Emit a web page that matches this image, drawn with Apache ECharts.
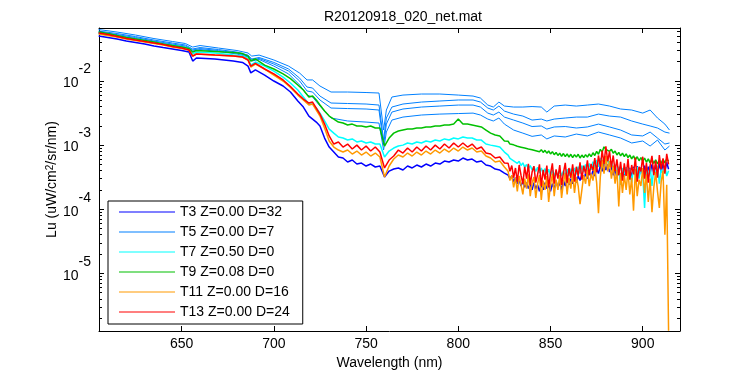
<!DOCTYPE html>
<html>
<head>
<meta charset="utf-8">
<title>R20120918_020_net.mat</title>
<script src="https://cdn.jsdelivr.net/npm/echarts@6/dist/echarts.min.js"></script>
<style>
html,body{margin:0;padding:0;background:#fff;}
#chart{width:750px;height:375px;}
</style>
</head>
<body>
<div id="chart"></div>
<script>
//wavelength grid (nm) for the six main traces
var wl = [605,610,615,620,625,630,635,640,645,650,654,656,658,663,668,673,678,683,686,687.5,690,695,700,705,709,713,716,719,721,723,725,
  727.5,730,732.5,735,737.5,740,742.5,745,747.5,750,752.5,755,757.5,760,762.5,765,767.5,770,772.5,775,777.5,780,782.5,785,787.5,790,792.5,795,797.5,800,802.5,805,807.5,810,812.5,815,817.5,820,822.5,825,
  827,828,829,830,831,832,833,834,835,836,837,838,839,840,841,842,843,844,845,846,847,848,849,850,851,852,853,854,855,856,
  857,858,859,860,861,862,863,864,865,866,867,868,869,870,871,872,873,874,875,876,877,878,879,880,881,882,883,884,885,886,
  887,888,889,890,891,892,893,894,895,896,897,898,899,900,901,902,903,904,905,906,907,908,909,910,911,912,913,914];

var t3 = [0.0503,0.0477,0.0452,0.0421,0.0399,0.0378,0.0352,0.0333,0.0316,0.0299,0.0283,0.0205,0.0229,0.0225,0.0221,0.0213,0.0205,0.0195,0.0171,0.0134,0.0149,0.0124,0.0100,0.00836,0.00674,0.00488,0.00393,0.00284,0.00255,0.00229,0.00199,
  0.00129,0.000934,0.000780,0.000652,0.000629,0.000545,0.000586,0.000507,0.000526,0.000472,0.000507,0.000456,0.000472,0.000318,0.000394,0.000424,0.000440,0.000409,0.000472,0.000440,0.000489,0.000456,0.000507,0.000472,0.000526,0.000507,0.000565,0.000545,0.000586,0.000565,0.000629,0.000586,0.000607,0.000545,0.000565,0.000489,0.000472,0.000424,0.000409,0.000367,
  3.4e-4,3.0e-4,3.3e-4,2.7e-4,3.1e-4,2.5e-4,2.9e-4,2.3e-4,2.7e-4,2.2e-4,2.6e-4,2.1e-4,2.5e-4,2.0e-4,2.6e-4,2.1e-4,2.4e-4,1.9e-4,2.5e-4,2.0e-4,2.6e-4,2.1e-4,2.4e-4,1.9e-4,2.5e-4,2.1e-4,2.7e-4,2.2e-4,2.6e-4,2.0e-4,
  2.8e-4,2.3e-4,2.9e-4,2.4e-4,3.0e-4,2.5e-4,3.2e-4,2.6e-4,3.3e-4,2.8e-4,3.5e-4,2.9e-4,3.6e-4,3.0e-4,3.8e-4,3.2e-4,4.0e-4,3.3e-4,4.3e-4,3.6e-4,4.8e-4,3.9e-4,5.2e-4,4.1e-4,5.0e-4,3.8e-4,4.6e-4,3.4e-4,4.2e-4,3.1e-4,
  4.0e-4,3.0e-4,4.3e-4,3.2e-4,4.5e-4,3.3e-4,4.4e-4,3.1e-4,4.6e-4,3.4e-4,4.7e-4,3.3e-4,4.5e-4,3.5e-4,4.8e-4,3.4e-4,4.6e-4,3.6e-4,5.0e-4,3.7e-4,4.9e-4,3.5e-4,5.2e-4,3.8e-4,5.1e-4,3.9e-4,5.4e-4,4.2e-4];

var t7 = [0.0551,0.0522,0.0494,0.0469,0.0444,0.0421,0.0399,0.0378,0.0358,0.0339,0.0321,0.0264,0.0283,0.0279,0.0274,0.0264,0.0254,0.0245,0.0225,0.0177,0.0198,0.0171,0.0143,0.0115,0.00931,0.00724,0.00563,0.00438,0.00438,0.00379,0.00316,
  0.00238,0.00178,0.00154,0.00134,0.00129,0.00120,0.00125,0.00112,0.00116,0.00108,0.00112,0.00104,0.00104,0.000652,0.000809,0.000901,0.000968,0.00100,0.00108,0.00104,0.00112,0.00108,0.00116,0.00112,0.00120,0.00116,0.00125,0.00120,0.00129,0.00125,0.00134,0.00129,0.00129,0.00120,0.00120,0.00104,0.00100,0.000968,0.000934,0.000780,
  7.0e-4,6.2e-4,6.6e-4,5.7e-4,6.0e-4,5.2e-4,5.6e-4,4.8e-4,5.3e-4,4.5e-4,5.0e-4,4.3e-4,4.8e-4,4.1e-4,4.6e-4,3.9e-4,4.5e-4,3.7e-4,4.4e-4,3.6e-4,4.3e-4,3.5e-4,4.2e-4,3.4e-4,4.1e-4,3.3e-4,4.0e-4,3.2e-4,4.1e-4,3.3e-4,
  4.0e-4,3.2e-4,4.2e-4,3.3e-4,4.3e-4,3.4e-4,4.4e-4,3.5e-4,4.6e-4,3.6e-4,4.8e-4,3.8e-4,5.0e-4,3.9e-4,5.2e-4,4.1e-4,5.5e-4,4.3e-4,5.9e-4,4.6e-4,6.3e-4,4.9e-4,6.6e-4,5.0e-4,6.2e-4,4.6e-4,5.6e-4,4.1e-4,5.0e-4,3.6e-4,
  4.6e-4,2.4e-4,4.4e-4,3.5e-4,4.5e-4,3.3e-4,4.3e-4,2.6e-4,4.4e-4,3.4e-4,4.6e-4,3.0e-4,4.5e-4,3.6e-4,1.05e-4,4.2e-4,3.2e-4,4.7e-4,2.3e-4,4.4e-4,3.4e-4,4.8e-4,2.5e-4,4.3e-4,3.5e-4,4.6e-4,3.3e-4,4.0e-4];

var t9 = [0.0581,0.0551,0.0512,0.0477,0.0452,0.0429,0.0406,0.0378,0.0358,0.0339,0.0321,0.0283,0.0299,0.0294,0.0289,0.0283,0.0278,0.0268,0.0245,0.0205,0.0221,0.0177,0.0154,0.0129,0.0109,0.00866,0.00724,0.00563,0.00583,0.00506,0.00422,
  0.00340,0.00284,0.00255,0.00229,0.00221,0.00206,0.00213,0.00199,0.00199,0.00192,0.00199,0.00185,0.00185,0.000968,0.00129,0.00154,0.00166,0.00172,0.00178,0.00178,0.00185,0.00185,0.00192,0.00192,0.00199,0.00199,0.00206,0.00206,0.00213,0.00255,0.00213,0.00213,0.00206,0.00199,0.00192,0.00172,0.00154,0.00144,0.00139,0.00116,
  11.5e-4,10.4e-4,11.0e-4,10.1e-4,10.6e-4,9.6e-4,10.2e-4,9.3e-4,9.9e-4,9.0e-4,9.6e-4,8.7e-4,9.3e-4,8.5e-4,9.1e-4,8.2e-4,8.8e-4,7.9e-4,8.5e-4,7.7e-4,8.3e-4,7.5e-4,8.1e-4,7.3e-4,7.9e-4,7.1e-4,7.7e-4,6.9e-4,7.5e-4,6.7e-4,
  7.4e-4,6.6e-4,7.3e-4,6.5e-4,7.2e-4,6.4e-4,7.1e-4,6.5e-4,7.2e-4,6.3e-4,7.0e-4,6.4e-4,7.1e-4,6.5e-4,7.3e-4,6.6e-4,7.6e-4,6.9e-4,8.0e-4,7.2e-4,8.6e-4,7.8e-4,9.4e-4,8.6e-4,9.2e-4,8.0e-4,8.6e-4,7.5e-4,8.1e-4,7.0e-4,
  7.7e-4,6.8e-4,7.5e-4,6.6e-4,7.3e-4,6.4e-4,7.0e-4,6.1e-4,6.8e-4,5.9e-4,6.6e-4,5.7e-4,6.4e-4,5.6e-4,6.3e-4,5.4e-4,6.1e-4,5.3e-4,6.0e-4,5.2e-4,5.9e-4,5.1e-4,5.8e-4,5.2e-4,6.0e-4,5.3e-4,6.1e-4,5.6e-4];

var t11 = [0.0541,0.0512,0.0486,0.0452,0.0429,0.0406,0.0385,0.0365,0.0339,0.0321,0.0305,0.0245,0.0264,0.0259,0.0254,0.0250,0.0245,0.0237,0.0213,0.0165,0.0184,0.0154,0.0124,0.0100,0.00793,0.00604,0.00506,0.00422,0.00438,0.00353,0.00284,
  0.00185,0.00116,0.000934,0.000839,0.000780,0.000839,0.000726,0.000809,0.000701,0.000780,0.000676,0.000753,0.000652,0.000318,0.000472,0.000607,0.000701,0.000652,0.000753,0.000676,0.000780,0.000701,0.000809,0.000726,0.000839,0.000753,0.000870,0.000780,0.000901,0.000809,0.000934,0.000839,0.000901,0.000780,0.000809,0.000676,0.000629,0.000545,0.000565,0.000456,
  3.9e-4,2.8e-4,3.4e-4,2.2e-4,3.1e-4,1.9e-4,3.3e-4,2.4e-4,1.7e-4,3.0e-4,2.1e-4,3.5e-4,1.6e-4,2.6e-4,3.2e-4,1.5e-4,2.5e-4,3.4e-4,1.4e-4,2.8e-4,2.0e-4,3.3e-4,1.3e-4,2.4e-4,3.6e-4,1.6e-4,2.9e-4,2.0e-4,3.4e-4,1.5e-4,
  2.6e-4,3.7e-4,1.7e-4,3.1e-4,2.1e-4,3.6e-4,1.8e-4,3.2e-4,2.3e-4,1.2e-4,2.0e-4,3.4e-4,2.5e-4,4.1e-4,2.3e-4,3.6e-4,2.8e-4,4.5e-4,2.6e-4,0.87e-4,3.2e-4,5.9e-4,3.6e-4,6.8e-4,3.9e-4,5.7e-4,3.0e-4,4.8e-4,2.5e-4,4.1e-4,
  1.1e-4,3.7e-4,1.8e-4,3.4e-4,2.0e-4,4.0e-4,1.7e-4,3.1e-4,0.95e-4,4.2e-4,1.6e-4,2.9e-4,2.3e-4,4.4e-4,1.8e-4,3.5e-4,1.3e-4,3.0e-4,0.9e-4,2.2e-4,3.8e-4,1.9e-4,1.05e-4,2.7e-4,4.0e-4,0.40e-4,2.4e-4,1.27e-6];

var t13 = [0.0561,0.0531,0.0494,0.0460,0.0436,0.0414,0.0392,0.0371,0.0345,0.0327,0.0305,0.0245,0.0264,0.0259,0.0254,0.0250,0.0245,0.0237,0.0213,0.0171,0.0188,0.0154,0.0129,0.0104,0.00822,0.00627,0.00524,0.00454,0.00470,0.00379,0.00305,
  0.00213,0.00139,0.00104,0.00112,0.000934,0.00104,0.000870,0.00100,0.000839,0.000968,0.000809,0.000934,0.000780,0.000440,0.000586,0.000676,0.000839,0.000753,0.000901,0.000780,0.000934,0.000809,0.000968,0.000839,0.00100,0.000870,0.00104,0.000901,0.00108,0.000934,0.00108,0.000934,0.00104,0.000870,0.000934,0.000753,0.000726,0.000629,0.000652,0.000526,
  5.2e-4,3.9e-4,4.8e-4,3.1e-4,4.4e-4,2.7e-4,4.9e-4,3.4e-4,2.5e-4,4.6e-4,3.0e-4,5.1e-4,2.4e-4,3.8e-4,4.7e-4,2.6e-4,3.5e-4,5.0e-4,2.3e-4,4.1e-4,2.9e-4,4.8e-4,2.2e-4,3.6e-4,5.2e-4,2.5e-4,4.2e-4,3.0e-4,4.9e-4,2.4e-4,
  3.7e-4,5.3e-4,2.6e-4,4.4e-4,3.1e-4,5.0e-4,2.7e-4,4.6e-4,3.3e-4,5.4e-4,2.9e-4,4.8e-4,3.6e-4,5.8e-4,3.4e-4,5.1e-4,4.0e-4,6.3e-4,3.8e-4,6.9e-4,4.6e-4,8.2e-4,5.1e-4,9.6e-4,5.6e-4,8.0e-4,4.5e-4,6.9e-4,3.9e-4,6.0e-4,
  3.4e-4,5.5e-4,2.8e-4,5.2e-4,3.3e-4,6.1e-4,2.9e-4,4.9e-4,3.5e-4,6.4e-4,2.7e-4,4.6e-4,3.9e-4,6.6e-4,3.0e-4,5.3e-4,2.6e-4,4.8e-4,6.8e-4,3.4e-4,5.7e-4,3.1e-4,7.0e-4,4.2e-4,6.2e-4,3.6e-4,7.3e-4,5.0e-4];

//T5 has four casts, on a coarser grid
var wlB = [605,615,625,635,645,652,656,660,670,680,686,688,692,700,708,714,718,721,725,731,740,750,757,759.5,761,764,770,780,790,800,
  808,812,816,819,822,825,830,835,840,845,848,852,858,864,870,876,882,888,894,900,904,908,912,914.5];
var t5a = [0.0636,0.0581,0.0522,0.0460,0.0414,0.0385,0.0339,0.0358,0.0327,0.0299,0.0274,0.0245,0.0254,0.0213,0.0171,0.0133,0.0104,0.0104,0.00836,0.00674,
  0.00674,0.00662,0.00650,0.00172,0.00353,0.00563,0.00604,0.00627,0.00627,0.00604,0.00583,0.00543,0.00422,0.00393,0.00470,0.00407,0.00393,0.00393,0.00400,0.00393,
  0.00328,0.00407,0.00422,0.00407,0.00422,0.00438,0.00407,0.00366,0.00353,0.00316,0.00353,0.00265,0.00213,0.00172];
var t5b = [0.0603,0.0551,0.0494,0.0436,0.0392,0.0365,0.0316,0.0333,0.0310,0.0283,0.0254,0.0221,0.0233,0.0195,0.0154,0.0111,0.00806,0.00778,0.00583,0.00454,
  0.00446,0.00438,0.00422,0.00120,0.00265,0.00393,0.00438,0.00470,0.00488,0.00506,0.00506,0.00470,0.00379,0.00353,0.00407,0.00340,0.00305,0.00284,0.00246,0.00255,
  0.00238,0.00255,0.00265,0.00274,0.00274,0.00305,0.00284,0.00274,0.00238,0.00213,0.00199,0.00185,0.00160,0.00154];
var t5c = [0.0581,0.0531,0.0477,0.0421,0.0378,0.0352,0.0305,0.0321,0.0299,0.0274,0.0245,0.0213,0.0225,0.0184,0.0143,0.0100,0.00699,0.00674,0.00506,0.00379,
  0.00372,0.00366,0.00353,0.00100,0.00213,0.00328,0.00366,0.00393,0.00407,0.00422,0.00422,0.00393,0.00316,0.00295,0.00328,0.00274,0.00246,0.00221,0.00195,0.00199,
  0.00178,0.00192,0.00195,0.00185,0.00192,0.00213,0.00192,0.00172,0.00144,0.00139,0.00160,0.00129,0.00104,0.00108];
var t5d = [0.0561,0.0512,0.0460,0.0406,0.0365,0.0339,0.0294,0.0310,0.0289,0.0264,0.0237,0.0205,0.0217,0.0171,0.0129,0.00866,0.00604,0.00563,0.00407,0.00265,
  0.00238,0.00229,0.00221,0.000839,0.00160,0.00246,0.00274,0.00295,0.00305,0.00311,0.00316,0.00295,0.00255,0.00238,0.00265,0.00213,0.00172,0.00154,0.00137,0.00144,
  0.00125,0.00139,0.00134,0.00149,0.00139,0.00160,0.00144,0.00129,0.00108,0.00116,0.000968,0.00120,0.000839,0.000968];

var names = ['T3 Z=0.00 D=32','T5 Z=0.00 D=7','T7 Z=0.50 D=0','T9 Z=0.08 D=0','T11 Z=0.00 D=16','T13 Z=0.00 D=24'];
var colors = ['#0000ff','#0080ff','#00ffff','#00c000','#ff9900','#ff0000'];

var xTicks = [650,700,750,800,850,900];
var yMajor = [1e-5,1e-4,1e-3,1e-2];
var xMin = 605.2, xMax = 920.2;
var yMin = 1.26e-6, yMax = 0.0672;

//minor ticks 2..9 x 10^n
var yMinor = [];
for (var e = -6; e <= -2; e++) {
  for (var m = 2; m <= 9; m++) {
    var v = m * Math.pow(10, e);
    if (v > yMin && v < yMax) yMinor.push(v);
  }
}

function pairs(xs, ys) {
  return xs.map(function (x, i) { return [x, ys[i]]; });
}

function lineSeries(idx, xs, ys, w) {
  return {
    name: names[idx],
    type: 'line',
    data: pairs(xs, ys),
    symbol: 'none',
    showSymbol: false,
    color: colors[idx],
    lineStyle: { width: w, color: colors[idx] },
    emphasis: { disabled: true },
    clip: true
  };
}

function expLabel(v) {
  var p = Math.round(Math.log(v) / Math.LN10);
  return '{b|10}{e|' + p + '}';
}

var black = { color: '#000', width: 1 };

function yAxisOf(pos, major, main) {
  return {
    type: 'log',
    logBase: 10,
    position: pos,
    min: yMin,
    max: yMax,
    splitLine: { show: false },
    axisLine: { show: major, lineStyle: black },
    axisTick: { inside: true, length: major ? 5 : 3, lineStyle: black, customValues: major ? yMajor : yMinor },
    axisLabel: main ? {
      customValues: yMajor,
      formatter: expLabel,
      margin: 8,
      padding: [0, 0, 9, 0],
      color: '#000',
      rich: {
        b: { fontSize: 14, lineHeight: 28, verticalAlign: 'bottom', color: '#000' },
        e: { fontSize: 14, lineHeight: 14, verticalAlign: 'top', color: '#000' }
      }
    } : { show: false },
    name: main ? 'Lu (uW/cm{s|2}/sr/nm)' : '',
    nameLocation: 'middle',
    nameRotate: 90,
    nameGap: 40,
    nameMoveOverlap: false,
    nameTextStyle: main ? {
      fontSize: 14,
      color: '#000',
      rich: {
        s: { fontSize: 10, lineHeight: 10, verticalAlign: 'top', color: '#000' }
      }
    } : {}
  };
}

function xAxisOf(pos, main) {
  return {
    type: 'value',
    position: pos,
    min: xMin,
    max: xMax,
    splitLine: { show: false },
    axisLine: { lineStyle: black },
    axisTick: { inside: true, length: 5, lineStyle: black, customValues: xTicks },
    axisLabel: main ? { customValues: xTicks, fontSize: 14, color: '#000', margin: 6 } : { show: false },
    name: main ? 'Wavelength (nm)' : '',
    nameLocation: 'middle',
    nameGap: 22,
    nameTextStyle: { fontSize: 14, color: '#000' }
  };
}

var myChart = echarts.init(document.getElementById('chart'), null, { renderer: 'canvas' });

var series = [
  lineSeries(0, wl, t3, 1.5),
  lineSeries(1, wlB, t5a, 1),
  lineSeries(1, wlB, t5b, 1),
  lineSeries(1, wlB, t5c, 1),
  lineSeries(1, wlB, t5d, 1),
  lineSeries(2, wl, t7, 1.5),
  lineSeries(3, wl, t9, 1.5),
  lineSeries(4, wl, t11, 1.5),
  lineSeries(5, wl, t13, 1.5)
];

option = {
  backgroundColor: '#fff',
  animation: false,
  textStyle: { fontFamily: 'Liberation Sans, Arial, sans-serif' },
  title: {
    text: 'R20120918_020_net.mat',
    left: 398,
    top: 5,
    textAlign: 'center',
    textStyle: { fontSize: 14, fontWeight: 'normal', color: '#000' }
  },
  grid: { left: 99, right: 70, top: 28, bottom: 44, containLabel: false },
  legend: {
    data: names,
    orient: 'vertical',
    left: 108,
    top: 201,
    padding: [4, 13, 5, 11],
    icon: 'path://M0,0L56,0L56,1L0,1Z',
    itemWidth: 56,
    itemHeight: 14,
    itemGap: 6,
    itemStyle: { borderWidth: 0 },
    lineStyle: { width: 0 },
    backgroundColor: '#fff',
    borderColor: '#000',
    borderWidth: 1,
    borderRadius: 0,
    selectedMode: false,
    textStyle: { fontSize: 14, color: '#000' }
  },
  xAxis: [xAxisOf('bottom', true), xAxisOf('top', false)],
  yAxis: [yAxisOf('left', true, true), yAxisOf('left', false, false), yAxisOf('right', true, false), yAxisOf('right', false, false)],
  series: series
};

myChart.setOption(option);
</script>
</body>
</html>
